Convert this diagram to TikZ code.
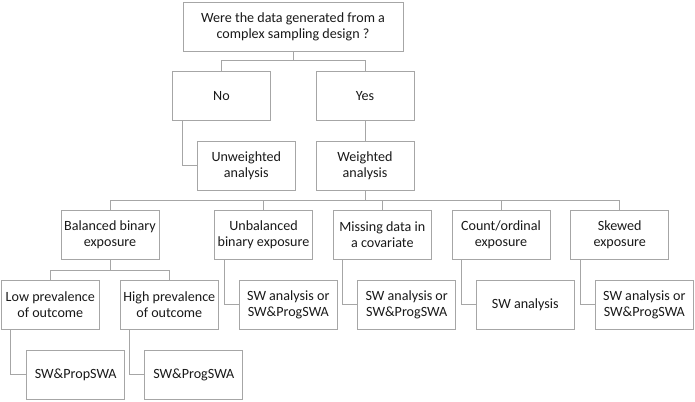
\documentclass[tikz,border=0pt]{standalone}
\usepackage{fontspec}
\setmainfont{Carlito}
\definecolor{linegray}{HTML}{A6A6A6}
\begin{document}
\begin{tikzpicture}[x=1pt,y=-1pt,
  box/.style={draw=linegray, line width=0.9pt, minimum width=98pt, minimum height=49pt,
    inner sep=1pt, align=center, font=\fontsize{14.1}{16}\selectfont, text=black!90},
  conn/.style={draw=linegray, line width=0.9pt}]
\useasboundingbox (0,0) rectangle (695,401);
\node[box, minimum width=220pt] (top) at (293,26.5) {Were the data generated from a\\complex sampling design ?};
\node[box] (no) at (221.5,95.7) {No};
\node[box] (yes) at (365,95.7) {Yes};
\node[box] (unw) at (246.3,165.5) {Unweighted\\analysis};
\node[box] (wei) at (365,165.5) {Weighted\\analysis};
\node[box] (bal) at (110,235) {Balanced binary\\exposure};
\node[box] (unb) at (263.5,235) {Unbalanced\\binary exposure};
\node[box] (mis) at (382.3,235) {Missing data in\\a covariate};
\node[box] (cnt) at (501,235) {Count/ordinal\\exposure};
\node[box] (skw) at (619.7,235) {Skewed\\exposure};
\node[box] (low) at (50.3,304.5) {Low prevalence\\of outcome};
\node[box] (high) at (169.3,304.5) {High prevalence\\of outcome};
\node[box] (unbsw) at (288.3,304.5) {SW analysis or\\SW\&ProgSWA};
\node[box] (missw) at (406.7,304.5) {SW analysis or\\SW\&ProgSWA};
\node[box] (cntsw) at (525.3,304.5) {SW analysis};
\node[box] (skwsw) at (644.3,304.5) {SW analysis or\\SW\&ProgSWA};
\node[box] (prop) at (75.7,374.7) {SW\&PropSWA};
\node[box] (prog) at (193.8,374.7) {SW\&ProgSWA};
% junction coordinates
\coordinate (j1) at (0,60.8);
\coordinate (j2) at (0,200.7);
\coordinate (j3) at (0,270);
% top split
\draw[conn] (top.south) -- (top.south |- j1);
\draw[conn] (no.north) -- (no.north |- j1) -- (yes.north |- j1) -- (yes.north);
\draw[conn] ([xshift=10pt]no.south west) |- (unw.west);
\draw[conn] (yes.south) -- (wei.north);
% second split
\draw[conn] (wei.south) -- (wei.south |- j2);
\draw[conn] (bal.north) -- (bal.north |- j2) -- (skw.north |- j2) -- (skw.north);
\draw[conn] (unb.north) -- (unb.north |- j2);
\draw[conn] (mis.north) -- (mis.north |- j2);
\draw[conn] (cnt.north) -- (cnt.north |- j2);
% balanced split
\draw[conn] (bal.south) -- (bal.south |- j3);
\draw[conn] (low.north) -- (low.north |- j3) -- (high.north |- j3) -- (high.north);
% elbows
\draw[conn] ([xshift=10pt]unb.south west) |- (unbsw.west);
\draw[conn] ([xshift=10pt]mis.south west) |- (missw.west);
\draw[conn] ([xshift=10pt]cnt.south west) |- (cntsw.west);
\draw[conn] ([xshift=10pt]skw.south west) |- (skwsw.west);
\draw[conn] ([xshift=10pt]low.south west) |- (prop.west);
\draw[conn] ([xshift=10pt]high.south west) |- (prog.west);
\end{tikzpicture}
\end{document}
